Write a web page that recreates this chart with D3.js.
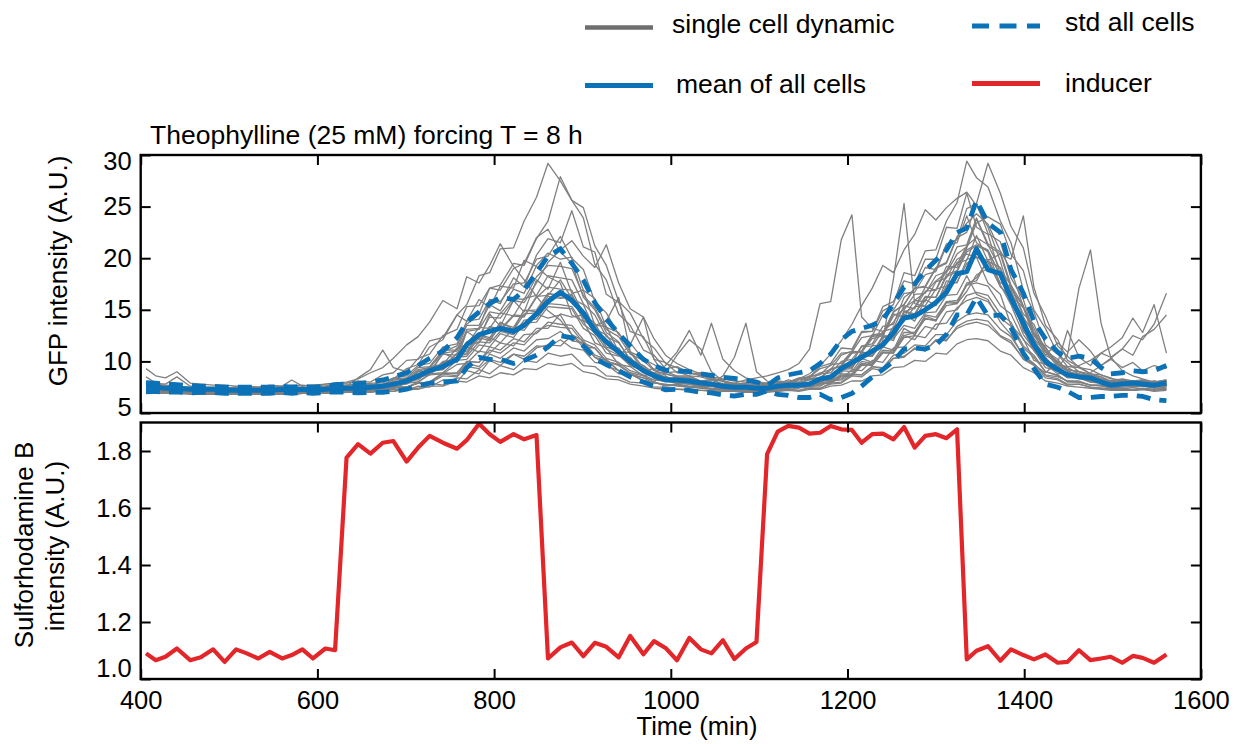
<!DOCTYPE html>
<html>
<head>
<meta charset="utf-8">
<script src="https://cdn.jsdelivr.net/npm/d3@7"></script>
<style>
  body { margin: 0; background: #fff; }
  text { font-family: "Liberation Sans", Arial, Helvetica, sans-serif; fill: #000; }
</style>
</head>
<body>
<svg id="chart" width="1236" height="744"></svg>
<script>
// Sampling times (min)
const times = [
  406, 417, 428, 441, 456, 468, 482, 495, 508, 520, 533, 546, 560, 571, 583, 595, 609, 620,
  633, 646, 660, 674, 686, 701, 714, 727, 742, 758, 769, 783, 795, 807, 822, 834, 848,
  861, 875, 888, 901, 914, 927, 941, 954, 969, 981, 994, 1007, 1021, 1034, 1046, 1059, 1072, 1085, 1097,
  1109, 1121, 1133, 1145, 1157, 1169, 1181, 1193, 1205, 1216, 1228, 1240, 1252, 1264, 1276, 1288, 1300, 1312, 1324,
  1335, 1346, 1359, 1373, 1385, 1399, 1411, 1424, 1438, 1449, 1462, 1475, 1487, 1498, 1511, 1523, 1534, 1547, 1561
];

// Sulforhodamine B (inducer tracer) intensity
const inducer = [
  1.090, 1.066, 1.078, 1.107, 1.066, 1.076, 1.104, 1.060, 1.104, 1.090, 1.072, 1.095, 1.072, 1.084, 1.104, 1.072, 1.107, 1.101,
  1.777, 1.824, 1.791, 1.829, 1.835, 1.763, 1.812, 1.853, 1.829, 1.808, 1.838, 1.896, 1.859, 1.832, 1.859, 1.841, 1.856,
  1.072, 1.111, 1.128, 1.080, 1.127, 1.113, 1.076, 1.151, 1.087, 1.133, 1.109, 1.066, 1.144, 1.104, 1.090, 1.136, 1.070, 1.107, 1.130,
  1.789, 1.868, 1.888, 1.882, 1.861, 1.864, 1.888, 1.876, 1.874, 1.829, 1.859, 1.861, 1.841, 1.884, 1.812, 1.853, 1.859, 1.845, 1.876,
  1.069, 1.099, 1.115, 1.064, 1.104, 1.084, 1.069, 1.086, 1.057, 1.060, 1.101, 1.066, 1.072, 1.078, 1.057, 1.081, 1.074, 1.057, 1.086
];

// Population mean GFP
const meanGFP = [
  7.5, 7.5, 7.4, 7.4, 7.3, 7.3, 7.3, 7.2, 7.2, 7.2, 7.2, 7.2, 7.3, 7.2, 7.3, 7.2, 7.3, 7.4,
  7.4, 7.4, 7.5, 7.6, 7.8, 8.1, 8.6, 9.1, 9.5, 10.2, 11.6, 12.6, 12.9, 13.2, 12.9, 13.5, 14.6,
  15.8, 16.7, 15.9, 14.7, 13.0, 11.9, 10.9, 10.0, 9.1, 8.6, 8.2, 8.2, 8.1, 7.9, 7.8, 7.6, 7.5, 7.5, 7.4,
  7.4, 7.6, 7.7, 7.7, 7.8, 8.3, 8.5, 9.3, 9.9, 10.4, 11.0, 11.6, 12.8, 14.2, 14.4, 15.0, 15.7, 16.7, 18.5,
  18.7, 20.9, 18.9, 18.5, 16.1, 13.7, 11.6, 10.0, 9.2, 8.7, 8.5, 8.4, 8.0, 7.7, 7.8, 7.9, 7.8, 7.7, 7.9
];

// Population standard deviation of GFP
const stdGFP = [
  0.45, 0.4, 0.4, 0.35, 0.35, 0.3, 0.3, 0.3, 0.3, 0.3, 0.3, 0.3, 0.3, 0.3, 0.3, 0.3, 0.3, 0.35,
  0.4, 0.45, 0.5, 0.6, 0.7, 0.8, 1.0, 1.2, 1.5, 2.1, 2.2, 2.2, 2.7, 3.0, 3.1, 3.4, 4.0,
  4.4, 4.2, 3.6, 3.2, 2.7, 2.2, 1.8, 1.5, 1.1, 1.0, 0.95, 0.9, 0.9, 0.9, 0.85, 0.85, 0.85, 0.7, 0.6,
  0.25, 0.8, 1.0, 1.2, 1.3, 1.5, 2.2, 2.8, 3.0, 2.8, 2.5, 2.4, 2.8, 3.0, 3.1, 3.8, 4.1, 4.1, 4.0,
  4.2, 4.7, 4.5, 4.0, 2.8, 2.9, 2.3, 2.2, 1.7, 1.6, 2.0, 1.9, 1.4, 1.1, 1.1, 1.2, 1.2, 1.4, 1.7
];

// Single-cell GFP traces
const cellTraces = [
  [7.6,7.4,7.5,7.3,7.3,7.2,7.2,7.1,7.2,7.2,7.1,7.2,7.2,7.1,7.3,7.2,7.3,7.4,
   7.5,7.7,7.6,8.1,8.3,9.3,9.7,11.4,12.1,14.5,15.5,18.3,18.6,20.9,21.0,23.6,25.9,
   29.2,27.5,25.6,23.9,19.4,17.9,14.6,13.5,11.1,10.6,9.3,9.5,8.9,8.7,8.3,8.1,7.6,7.8,7.5,
   7.4,7.9,7.8,8.2,8.4,8.9,9.2,10.6,11.0,12.8,12.9,14.9,15.5,18.6,18.3,20.7,20.8,23.6,25.4,
   29.4,27.8,26.9,23.6,21.5,16.9,14.8,11.6,10.7,9.5,9.4,8.8,8.5,8.0,8.2,8.0,8.2,7.9,8.1],
  [7.3,7.3,7.2,7.2,7.1,7.1,7.0,7.1,7.0,7.1,7.0,7.1,7.1,7.2,7.1,7.2,7.2,7.2,
   7.3,7.4,7.6,7.5,7.9,8.1,9.0,9.4,10.9,11.5,13.6,14.6,17.1,17.4,19.5,19.3,21.9,
   23.6,27.9,25.6,24.9,21.2,19.3,15.8,14.7,12.2,11.3,9.8,9.4,8.8,8.9,8.3,8.2,7.7,7.7,7.5,
   7.3,7.5,7.6,7.9,7.9,8.3,8.4,9.5,9.8,11.5,11.7,13.4,13.6,16.2,17.0,19.1,18.9,21.4,21.8,
   24.8,25.3,29.2,26.3,23.1,21.0,16.6,14.4,11.5,10.5,9.4,9.2,8.7,8.4,7.9,8.1,7.9,8.1,7.8],
  [8.0,7.8,7.7,7.6,7.5,7.5,7.4,7.4,7.5,7.5,7.4,7.5,7.6,7.5,7.7,7.6,7.8,7.9,
   7.9,8.1,8.0,8.7,8.9,10.1,10.2,12.0,12.3,14.5,13.9,16.0,15.2,17.3,17.1,19.8,19.2,
   18.2,17.6,14.5,13.9,11.8,11.3,9.7,9.5,8.6,8.9,8.3,8.4,8.0,8.0,7.7,7.9,7.6,7.7,7.8,
   7.9,7.8,8.2,8.0,8.6,8.7,9.7,9.8,11.0,10.9,12.4,12.6,14.6,14.3,15.9,15.8,17.7,18.1,19.9,
   20.4,20.1,17.6,16.5,13.5,12.2,10.1,9.7,8.8,8.9,8.3,8.3,7.9,8.1,7.9,8.0,7.8,8.1,7.9],
  [7.0,6.9,6.9,6.9,6.8,6.8,6.8,6.8,6.8,6.9,6.8,6.8,6.9,6.8,6.9,6.9,6.9,7.0,
   7.0,7.1,7.0,7.2,7.1,7.4,7.4,7.9,7.7,8.4,8.3,9.2,8.8,9.6,9.2,10.1,9.9,
   10.8,10.5,10.7,9.6,9.5,8.6,8.5,8.0,7.9,7.5,7.5,7.3,7.3,7.2,7.2,7.1,7.1,7.0,7.0,
   7.1,7.1,7.3,7.2,7.4,7.4,7.8,7.9,8.6,8.5,9.3,9.1,10.3,10.4,11.3,11.0,12.1,12.0,13.4,
   13.9,14.1,13.9,12.5,12.0,10.2,9.6,8.4,8.2,7.7,7.8,7.5,7.4,7.3,7.3,7.2,7.3,7.2,7.3],
  [7.5,7.4,7.4,7.3,7.3,7.2,7.3,7.2,7.2,7.3,7.2,7.3,7.2,7.3,7.3,7.4,7.4,7.5,
   7.4,7.4,7.6,7.5,7.8,7.9,8.6,8.8,10.0,10.2,11.9,12.4,14.3,14.2,15.9,15.7,17.6,
   19.6,20.8,21.7,20.2,19.1,21.3,17.6,15.1,14.3,12.2,10.6,9.8,9.2,8.8,8.5,8.3,8.1,8.0,7.9,
   7.8,7.7,7.9,7.9,8.2,8.4,9.2,9.6,10.9,11.0,12.6,12.7,14.8,15.5,17.1,17.2,19.0,19.5,22.0,
   22.5,25.3,22.4,21.6,18.1,16.0,12.7,11.3,9.7,9.4,8.8,8.7,8.1,8.1,7.9,8.0,8.1,7.8,8.0],
  [7.2,7.2,7.1,7.1,7.0,7.0,7.0,7.0,7.0,7.0,7.0,7.1,7.0,7.1,7.1,7.1,7.2,7.2,
   7.2,7.3,7.4,7.3,7.8,7.9,8.6,8.8,9.9,10.1,11.8,11.9,13.4,13.1,14.5,14.4,16.3,
   16.4,17.9,16.1,15.5,13.1,12.6,10.8,10.4,9.0,8.8,9.6,10.9,13.0,10.6,13.7,10.2,9.1,8.4,8.0,
   7.9,7.6,7.6,7.8,7.7,8.3,8.3,9.5,9.6,10.9,10.8,12.4,12.6,14.9,14.6,16.3,16.2,18.4,18.8,
   20.8,21.3,20.8,18.3,17.0,13.7,12.2,10.1,9.5,8.6,8.5,8.1,8.0,7.6,7.8,7.6,7.7,7.5,7.7],
  [7.4,7.3,7.3,7.2,7.2,7.2,7.1,7.1,7.2,7.1,7.2,7.2,7.1,7.2,7.2,7.3,7.3,7.3,
   7.3,7.5,7.4,7.7,7.7,8.4,8.5,9.5,9.7,11.3,11.6,13.3,13.2,14.7,14.4,16.1,16.4,
   18.3,18.1,17.9,15.6,14.5,12.4,11.8,10.2,9.6,8.8,8.5,8.2,8.3,7.9,7.9,7.7,7.9,8.2,8.4,
   8.6,8.9,9.2,9.8,11.2,15.6,15.8,21.8,24.2,14.3,13.2,12.9,13.8,15.2,15.9,16.7,17.8,18.6,20.4,
   21.1,23.8,21.2,20.4,17.1,15.3,12.2,10.9,9.5,9.1,8.5,8.5,8.0,7.9,7.7,7.8,7.9,7.7,7.8],
  [7.3,7.2,7.2,7.1,7.1,7.1,7.0,7.1,7.0,7.0,7.1,7.1,7.1,7.0,7.1,7.2,7.2,7.2,
   7.2,7.3,7.2,7.5,7.5,8.1,8.2,9.1,9.2,10.5,10.7,12.3,12.0,13.5,13.0,14.6,14.7,
   16.3,16.1,16.2,14.0,13.2,11.4,10.9,9.6,9.2,8.4,8.2,7.9,8.0,7.6,7.7,7.4,7.4,7.2,7.3,
   7.2,7.5,7.4,7.7,7.6,8.2,8.3,9.3,9.4,10.6,10.5,12.0,18.0,25.3,15.6,15.3,15.5,17.3,17.7,
   19.5,20.1,19.6,17.3,16.0,13.2,11.8,9.8,9.2,8.5,8.4,8.0,7.9,7.6,7.7,7.5,7.6,7.5,7.6],
  [7.6,7.5,7.5,7.4,7.4,7.3,7.3,7.3,7.3,7.2,7.3,7.3,7.3,7.3,7.4,7.4,7.5,7.5,
   7.6,7.6,7.5,7.8,7.8,8.4,8.5,9.4,9.5,10.8,11.0,12.6,12.3,13.7,13.3,14.9,15.0,
   16.6,16.4,16.5,14.3,13.5,11.7,11.2,9.9,9.4,8.7,8.5,8.2,8.3,7.9,8.0,7.7,7.7,7.5,7.6,
   7.6,7.6,7.5,7.8,7.7,8.0,7.9,8.5,8.6,9.6,9.7,10.9,10.8,12.3,12.5,14.5,14.3,15.8,15.9,
   17.4,18.1,19.8,20.4,19.9,24.1,17.2,13.5,12.1,10.1,9.5,8.8,8.7,8.3,8.2,7.9,8.0,7.8,7.9],
  [7.1,7.1,7.0,7.0,7.0,6.9,6.9,6.9,6.9,6.9,7.0,6.9,7.0,6.9,7.0,7.0,7.0,7.1,
   7.1,7.2,7.3,7.2,7.7,7.8,8.5,8.7,9.8,10.0,11.7,11.8,13.3,13.0,14.4,14.3,16.2,
   17.2,17.0,16.9,14.6,13.7,11.8,11.3,9.8,9.3,8.4,8.2,7.9,8.0,7.6,7.7,7.3,7.3,7.1,7.2,
   7.1,7.4,7.3,7.7,7.6,8.2,8.3,9.4,9.6,10.8,10.9,12.3,12.6,14.8,14.5,16.2,16.2,18.2,18.7,
   20.6,21.2,20.7,18.3,16.8,13.7,12.1,10.0,9.4,10.6,17.1,20.8,13.7,10.4,9.1,8.6,8.3,8.0,8.2],
  [7.9,7.7,7.6,7.5,7.4,7.4,7.3,7.3,7.3,7.3,7.3,7.4,7.3,7.4,7.4,7.5,7.5,7.6,
   7.6,7.6,7.8,7.7,8.2,8.3,9.2,9.4,10.8,11.0,12.9,13.1,14.8,14.6,16.1,16.0,18.2,
   19.3,19.2,19.0,16.4,15.2,13.1,12.4,10.7,10.1,9.1,8.8,8.5,8.5,8.1,8.2,7.8,7.8,7.6,7.6,
   7.6,7.7,8.0,7.9,8.3,8.4,9.3,9.5,10.8,10.9,12.2,12.5,14.4,15.0,16.5,16.6,18.3,18.7,21.1,
   21.3,23.9,21.4,20.6,17.4,15.4,12.5,11.1,9.7,9.5,9.6,10.1,10.8,10.4,11.2,12.5,12.1,13.6,16.6],
  [7.2,7.1,7.1,7.1,7.0,7.0,7.0,7.0,6.9,7.0,7.0,7.0,7.0,7.0,7.1,7.0,7.1,7.1,
   7.1,7.2,7.1,7.4,7.4,7.9,8.0,8.8,8.9,10.1,10.2,11.6,11.4,12.7,12.3,13.7,13.8,
   15.3,15.2,15.1,13.2,12.5,10.8,10.5,11.6,14.3,10.2,8.6,7.9,7.8,7.5,7.6,7.3,7.3,7.1,7.2,
   7.2,7.3,7.5,7.5,7.8,7.9,8.6,8.9,10.1,10.2,11.5,11.6,13.4,13.9,15.3,15.4,17.0,17.3,19.6,
   19.8,22.2,19.7,19.1,16.2,14.3,11.6,10.4,9.1,8.8,8.4,8.9,9.6,10.3,11.2,10.6,12.4,13.1,14.5],
  [7.5,7.4,7.4,7.3,7.3,7.2,7.3,7.2,7.3,7.3,7.3,7.3,7.3,7.4,7.4,7.5,7.6,7.8,
   7.6,8.4,9.2,11.1,9.4,9.0,10.3,10.7,12.5,13.1,15.3,15.4,17.1,16.9,19.0,19.5,22.0,
   22.8,20.6,19.5,16.2,15.0,12.8,11.9,10.1,9.6,8.8,8.8,8.5,8.4,8.0,7.9,7.6,7.7,7.4,7.5,
   7.5,7.6,7.9,7.9,8.3,8.4,9.2,9.6,10.8,11.0,12.5,12.7,14.8,15.5,17.1,17.3,19.1,19.6,22.1,
   23.4,24.3,23.3,20.7,18.9,15.3,13.2,10.9,10.0,9.2,9.0,8.5,8.3,7.9,8.1,7.9,8.0,7.8,8.1],
  [9.3,8.6,8.4,9.0,7.9,7.8,7.7,7.7,7.6,7.6,7.5,7.6,7.5,7.7,7.6,7.7,7.8,7.9,
   8.0,8.3,8.9,9.4,10.3,11.6,12.4,13.8,15.9,15.1,18.2,17.6,19.3,21.4,19.2,17.9,16.3,
   14.9,14.0,12.6,11.6,10.4,9.6,9.1,8.7,8.4,8.2,8.1,8.0,7.9,7.9,7.8,7.8,7.7,7.7,7.6,
   7.7,8.0,7.9,8.3,8.2,8.8,8.9,10.0,10.2,11.4,11.5,12.9,13.2,15.4,15.1,16.8,16.9,18.8,19.4,
   21.2,22.0,21.3,18.9,17.4,14.3,12.7,10.6,9.9,9.2,9.0,8.6,8.5,8.1,8.3,8.1,8.2,8.0,8.2],
  [8.5,7.9,7.8,8.5,7.6,7.5,7.5,7.4,7.5,7.6,7.5,7.7,7.6,8.2,7.6,7.7,7.6,7.8,
   7.8,7.7,7.9,7.9,8.4,8.6,9.6,9.8,11.4,11.7,13.9,14.1,16.0,15.8,17.5,17.6,19.9,
   20.2,22.1,20.0,18.9,15.8,14.7,12.6,11.8,10.2,9.7,8.9,9.0,8.6,8.5,8.2,8.1,7.8,7.9,7.7,
   7.8,8.1,8.0,8.3,8.5,9.3,9.6,10.8,10.9,12.3,12.5,14.5,15.0,16.6,16.7,18.4,18.7,21.2,21.5,
   24.1,21.5,20.6,17.4,15.5,12.6,11.2,9.8,9.4,8.8,8.8,8.2,8.2,8.0,8.2,8.0,8.1,8.0,8.1],
  [7.1,7.0,7.0,7.0,6.9,6.9,6.9,6.9,6.9,6.9,6.9,6.9,6.9,6.9,7.0,6.9,7.0,7.0,
   7.1,7.2,7.3,7.2,7.5,7.5,8.0,7.9,8.8,8.6,9.8,9.5,10.7,10.3,11.3,11.0,12.1,
   12.2,12.9,12.0,11.8,10.4,10.1,9.1,8.8,8.1,8.0,7.6,7.7,7.5,7.5,7.4,7.3,7.3,7.2,7.2,
   7.2,7.3,7.5,7.4,7.6,7.6,8.2,8.3,9.2,9.1,10.1,9.9,11.3,11.4,12.5,12.3,13.6,13.7,15.2,
   15.9,16.2,15.8,14.2,13.4,11.3,10.4,9.0,8.6,8.1,8.0,7.7,7.7,7.4,7.5,7.5,7.6,7.4,7.5],
  [7.3,7.3,7.2,7.2,7.2,7.1,7.1,7.1,7.1,7.1,7.1,7.2,7.1,7.2,7.2,7.2,7.3,7.3,
   7.3,7.3,7.4,7.3,7.5,7.5,7.9,8.0,8.9,8.8,10.0,9.9,11.4,11.1,12.2,11.9,13.2,
   13.2,14.6,14.3,14.5,12.7,12.1,10.7,10.3,9.2,8.9,8.2,8.1,7.8,7.9,7.6,7.7,7.4,7.5,7.3,
   7.3,7.4,7.5,7.7,7.6,7.8,7.9,8.6,8.7,9.8,9.7,10.9,10.9,12.5,12.8,14.1,14.0,15.4,15.6,
   16.8,18.4,19.0,18.3,16.4,15.2,12.8,11.4,9.7,9.1,8.5,8.4,8.0,7.9,7.6,7.8,7.6,7.7,7.6],
  [6.9,6.9,6.9,6.9,6.9,6.8,6.8,6.8,6.8,6.8,6.8,6.8,6.9,6.8,6.9,6.9,6.9,6.9,
   7.0,7.1,7.2,7.1,7.4,7.5,7.9,8.0,8.8,8.9,10.0,9.9,11.1,10.8,11.8,11.6,12.9,
   13.5,13.3,13.2,11.8,11.3,10.0,9.6,8.8,8.4,7.9,7.8,7.6,7.5,7.4,7.3,7.2,7.2,7.1,7.1,
   7.1,7.2,7.3,7.2,7.4,7.4,7.9,8.0,8.7,8.7,9.5,9.4,10.6,10.8,11.6,11.5,12.6,12.6,13.9,
   14.5,14.7,14.5,13.1,12.4,10.6,9.8,8.6,8.3,7.8,7.8,7.5,7.4,7.3,7.3,7.2,7.3,7.2,7.3],
  [7.2,7.2,7.1,7.1,7.1,7.1,7.0,7.0,7.1,7.0,7.1,7.1,7.1,7.1,7.1,7.2,7.2,7.2,
   7.2,7.3,7.4,7.3,7.6,7.5,7.9,7.9,8.6,8.5,9.5,9.3,10.2,9.9,10.7,10.5,11.5,
   11.4,12.1,11.3,11.1,9.9,9.7,8.8,8.8,8.1,8.0,7.7,7.8,7.6,7.6,7.8,8.6,10.4,13.7,9.0,
   8.1,7.6,7.5,7.8,7.8,8.4,8.5,9.5,9.5,10.6,10.5,11.9,12.2,13.5,13.2,14.7,14.8,16.4,16.5,
   18.3,16.5,16.0,13.8,12.6,10.5,9.7,8.7,8.5,8.1,8.1,7.7,7.7,7.5,7.7,7.5,7.6,7.5,7.6],
  [7.4,7.4,7.3,7.3,7.3,7.2,7.2,7.2,7.2,7.2,7.2,7.2,7.2,7.2,7.3,7.3,7.3,7.4,
   7.4,7.5,7.4,7.7,7.7,8.2,8.3,9.1,9.2,10.4,10.5,11.9,11.8,12.9,12.6,14.0,14.1,
   15.6,15.5,15.3,13.6,12.8,11.2,10.6,9.6,9.1,8.5,8.3,8.0,8.1,7.8,7.8,7.6,7.5,7.5,7.4,
   7.4,7.5,7.6,7.5,7.7,7.7,8.1,8.2,8.8,8.7,9.5,9.3,10.3,10.5,11.2,11.1,12.0,12.1,13.2,
   13.6,13.8,13.5,12.4,11.8,10.3,9.7,8.9,9.9,13.0,10.4,9.6,10.8,11.4,12.3,14.2,12.8,15.5,10.8],
  [7.0,7.0,6.9,6.9,6.9,6.9,6.8,6.9,6.8,6.8,6.9,6.8,6.9,6.8,6.9,6.9,7.0,7.0,
   7.0,7.1,7.0,7.2,7.1,7.3,7.3,7.6,7.6,8.1,8.0,8.6,8.4,8.9,8.7,9.3,9.2,
   9.8,9.6,9.8,9.0,8.8,8.3,8.2,7.8,7.6,7.4,7.3,7.3,7.2,7.2,7.1,7.1,7.1,7.0,7.0,
   7.0,7.1,7.2,7.1,7.3,7.3,7.6,7.7,8.1,8.1,8.6,8.7,9.4,9.5,10.1,10.0,10.8,10.7,11.7,
   12.1,12.2,12.0,11.0,10.6,9.4,8.9,8.1,7.9,7.6,7.5,7.4,7.3,7.2,7.2,7.2,7.3,7.1,7.2],
  [7.4,7.3,7.3,7.3,7.2,7.2,7.2,7.1,7.2,7.2,7.2,7.2,7.2,7.2,7.2,7.3,7.3,7.4,
   7.4,7.5,7.4,7.6,7.6,8.0,8.0,8.7,8.8,9.7,9.8,11.0,10.8,11.8,11.5,12.6,12.7,
   13.8,13.6,13.5,12.1,11.6,10.3,9.9,9.1,8.7,8.2,8.1,7.9,7.8,7.7,7.6,7.5,7.5,7.4,7.4,
   7.5,7.7,7.9,8.3,8.8,9.6,10.7,12.0,13.6,15.4,17.1,19.3,18.6,20.8,22.3,24.7,23.7,24.9,25.8,
   26.4,25.1,23.0,19.7,16.3,13.1,11.0,9.8,9.1,8.7,8.5,8.4,8.2,8.1,8.1,8.0,8.0,8.0,8.1],
  [7.3,7.2,7.2,7.1,7.1,7.1,7.1,7.0,7.1,7.1,7.0,7.1,7.1,7.1,7.2,7.1,7.2,7.3,
   7.4,7.3,7.6,7.5,8.1,8.0,9.1,8.8,10.8,10.2,12.9,12.1,14.6,13.4,15.9,14.8,17.9,
   17.0,19.6,16.6,16.9,13.5,13.4,10.9,10.9,9.1,9.3,8.2,8.5,8.0,8.0,7.7,7.7,7.4,7.5,7.3,
   7.3,7.6,7.5,7.8,7.7,8.3,8.4,9.5,9.4,10.9,10.5,12.4,12.0,14.6,13.9,16.0,15.4,17.8,17.6,
   19.9,20.1,19.8,17.2,16.3,13.2,11.9,9.9,9.4,8.6,8.5,8.1,8.0,7.7,7.8,7.6,7.7,7.6,7.7],
  [7.1,7.1,7.1,7.0,7.0,7.0,7.0,6.9,7.0,7.0,7.0,7.0,7.0,7.0,7.0,7.1,7.1,7.1,
   7.2,7.3,7.4,7.4,7.8,8.0,8.7,8.7,9.9,9.9,11.4,10.9,12.3,11.8,13.2,13.0,14.6,
   14.2,14.5,12.6,12.0,10.6,10.2,9.1,8.8,8.1,8.0,7.7,7.8,7.5,7.6,7.3,7.3,7.2,7.2,7.2,
   7.2,7.3,7.4,7.7,7.7,8.1,8.1,9.2,9.3,10.9,10.7,12.5,12.3,14.8,15.2,17.2,16.9,19.2,19.1,
   21.0,23.4,24.0,23.3,20.4,18.8,15.0,13.2,10.7,9.9,9.0,8.8,8.3,8.1,7.7,7.9,7.7,7.8,7.6],
  [7.4,7.3,7.3,7.3,7.2,7.2,7.2,7.2,7.2,7.2,7.2,7.2,7.3,7.2,7.3,7.3,7.3,7.4,
   7.4,7.5,7.5,7.7,7.7,8.3,8.3,9.3,9.3,10.8,10.8,12.6,12.1,13.8,13.1,15.0,14.8,
   16.6,16.2,16.4,14.2,13.5,13.9,16.2,11.0,9.4,8.6,8.4,8.1,8.2,7.8,7.9,7.6,7.6,7.4,7.4,
   7.4,7.6,7.5,7.8,7.7,8.2,8.1,9.1,9.0,10.3,9.9,11.4,11.1,13.2,12.6,14.2,13.9,15.8,15.7,
   17.4,17.6,17.3,15.4,14.6,12.1,11.1,9.4,9.1,8.4,8.4,8.0,7.9,7.7,7.8,7.6,7.7,7.6,7.7],
  [7.5,7.5,7.4,7.4,7.4,7.3,7.3,7.3,7.4,7.3,7.3,7.4,7.4,7.3,7.4,7.4,7.5,7.5,
   7.6,7.5,7.8,7.7,8.3,8.4,9.4,9.5,11.1,11.1,13.5,13.5,15.5,14.9,17.0,16.6,19.3,
   20.5,19.9,20.1,16.9,16.1,13.3,12.8,10.9,10.4,9.2,9.0,8.6,8.6,8.1,8.2,7.8,7.8,7.6,7.6,
   7.7,8.0,8.0,8.4,8.5,9.5,9.8,11.3,11.2,12.9,12.9,15.3,15.8,17.8,17.5,19.9,19.9,23.0,22.9,
   26.3,23.0,22.3,18.4,16.6,12.9,11.9,10.6,11.8,10.9,12.1,11.0,9.6,10.2,9.4,9.9,9.1,9.6,9.3],
  [7.0,6.9,6.9,6.9,6.9,6.9,6.8,6.8,6.8,6.8,6.9,6.8,6.8,6.9,6.9,6.9,6.9,7.0,
   7.0,7.1,7.2,7.1,7.3,7.2,7.6,7.5,8.2,8.0,9.1,8.8,10.1,9.6,10.7,10.2,11.3,
   11.6,11.5,12.5,11.4,11.3,10.0,9.7,8.9,8.6,8.0,8.9,10.6,12.1,11.2,9.0,8.1,7.5,7.2,7.1,
   7.1,7.3,7.2,7.5,7.4,7.9,7.9,8.7,8.7,9.7,9.6,10.8,10.8,12.5,12.1,13.4,13.1,14.8,15.0,
   16.4,16.7,16.4,14.6,13.8,11.5,10.6,9.0,8.7,8.0,8.0,7.7,7.6,7.4,7.4,7.3,7.4,7.3,7.4],
  [7.3,7.3,7.3,7.2,7.2,7.2,7.2,7.2,7.1,7.2,7.2,7.2,7.2,7.2,7.2,7.3,7.3,7.3,
   7.3,7.4,7.7,7.5,7.9,8.0,9.0,9.0,10.7,10.6,13.1,13.2,16.0,15.6,18.1,17.2,20.3,
   21.9,21.5,24.6,21.1,20.6,16.5,15.7,12.9,12.4,10.2,9.9,8.9,8.9,8.6,8.4,8.1,7.9,7.6,7.6,
   7.4,7.5,7.5,7.8,7.7,7.9,8.0,8.8,8.8,10.0,9.8,11.1,11.0,12.8,12.8,14.4,14.0,15.7,15.6,
   17.6,17.8,19.9,17.6,17.3,14.6,13.6,11.0,10.2,9.0,8.8,8.3,8.3,7.9,7.9,7.7,7.8,7.8,7.7]
];

// Axis tick values
const timeTicks = [400, 600, 800, 1000, 1200, 1400, 1600];
const gfpTicks = [5, 10, 15, 20, 25, 30];
const srbTicks = [1.0, 1.2, 1.4, 1.6, 1.8];

const legendItems = [
  { label: "single cell dynamic", kind: "cell" },
  { label: "mean of all cells", kind: "mean" },
  { label: "std all cells", kind: "std" },
  { label: "inducer", kind: "inducer" }
];

// ---------- drawing ----------
const C = {
  cell: "#808080",
  cellLegend: "#6e6e6e",
  blue: "#0b72b8",
  red: "#e3262a",
  frame: "#000"
};

const svg = d3.select("#chart");
const left = 140.7, right = 1200.9;
const topPanel = { y0: 155, y1: 413 };
const botPanel = { y0: 422.5, y1: 679 };

const x = d3.scaleLinear().domain([400, 1600]).range([left, right]);
const yTop = d3.scaleLinear().domain([5, 30]).range([topPanel.y1, topPanel.y0]);
const yBot = d3.scaleLinear().domain([1.0, 1.9]).range([botPanel.y1, botPanel.y0]);

const defs = svg.append("defs");
defs.append("clipPath").attr("id", "clipTop").append("rect")
  .attr("x", left).attr("y", topPanel.y0).attr("width", right - left).attr("height", topPanel.y1 - topPanel.y0);
defs.append("clipPath").attr("id", "clipBot").append("rect")
  .attr("x", left).attr("y", botPanel.y0).attr("width", right - left).attr("height", botPanel.y1 - botPanel.y0);

// Top panel: GFP
const gTop = svg.append("g").attr("clip-path", "url(#clipTop)");
const lineTop = vals => d3.line().x((d, i) => x(times[i])).y(d => yTop(d))(vals);

gTop.selectAll("path.cell").data(cellTraces).join("path")
  .attr("class", "cell")
  .attr("d", d => lineTop(d))
  .attr("fill", "none").attr("stroke", C.cell).attr("stroke-width", 1.3)
  .attr("stroke-linejoin", "round");

const upper = meanGFP.map((m, i) => m + stdGFP[i]);
const lower = meanGFP.map((m, i) => m - stdGFP[i]);
[upper, lower].forEach(arr => {
  gTop.append("path").attr("d", lineTop(arr))
    .attr("fill", "none").attr("stroke", C.blue).attr("stroke-width", 4.8)
    .attr("stroke-dasharray", "14,9");
});
gTop.append("path").attr("d", lineTop(meanGFP))
  .attr("fill", "none").attr("stroke", C.blue).attr("stroke-width", 5)
  .attr("stroke-linejoin", "round");

// Bottom panel: inducer
const gBot = svg.append("g").attr("clip-path", "url(#clipBot)");
gBot.append("path")
  .attr("d", d3.line().x((d, i) => x(times[i])).y(d => yBot(d))(inducer))
  .attr("fill", "none").attr("stroke", C.red).attr("stroke-width", 4.2)
  .attr("stroke-linejoin", "round");

// Axes with inward ticks on all four sides
function styleAxis(g) {
  g.select(".domain").remove();
  g.selectAll(".tick line").attr("stroke", C.frame).attr("stroke-width", 2);
  g.selectAll(".tick text").attr("font-size", 25.5).attr("font-family", '"Liberation Sans", Arial, sans-serif').attr("fill", "#000");
}

function panelAxes(yScale, y0, y1, yTicks, fmt, showX) {
  svg.append("g").attr("transform", `translate(${left},0)`)
    .call(d3.axisLeft(yScale).tickValues(yTicks).tickSize(-10).tickPadding(9).tickFormat(fmt))
    .call(styleAxis);
  svg.append("g").attr("transform", `translate(${right},0)`)
    .call(d3.axisRight(yScale).tickValues(yTicks).tickSize(-10).tickFormat(""))
    .call(styleAxis);
  svg.append("g").attr("transform", `translate(0,${y0})`)
    .call(d3.axisTop(x).tickValues(timeTicks).tickSize(-10).tickFormat(""))
    .call(styleAxis);
  const gb = svg.append("g").attr("transform", `translate(0,${y1})`)
    .call(d3.axisBottom(x).tickValues(timeTicks).tickSize(-10).tickPadding(10)
      .tickFormat(showX ? d3.format("d") : ""))
    .call(styleAxis);
  if (showX) gb.selectAll(".tick text").attr("dy", "0.78em");
  svg.append("rect").attr("x", left).attr("y", y0)
    .attr("width", right - left).attr("height", y1 - y0)
    .attr("fill", "none").attr("stroke", C.frame).attr("stroke-width", 2.4);
}

panelAxes(yTop, topPanel.y0, topPanel.y1, gfpTicks, d3.format("d"), false);
panelAxes(yBot, botPanel.y0, botPanel.y1, srbTicks, d3.format(".1f"), true);

// keep the end labels inside the panel height
svg.selectAll("g.tick").filter(d => d === 30).select("text").attr("dy", "0.55em");
svg.selectAll("g.tick").filter(d => d === 5).select("text").attr("dy", "0.08em");
svg.selectAll("g.tick").filter(d => d === 1.0).select("text").attr("dy", "-0.08em");

// Titles and axis labels
svg.append("text").attr("x", 150).attr("y", 144)
  .attr("font-size", 26.5).text("Theophylline (25 mM) forcing T = 8 h");

svg.append("text").attr("transform", "translate(67,271) rotate(-90)")
  .attr("text-anchor", "middle").attr("font-size", 26).text("GFP intensity (A.U.)");

svg.append("text").attr("transform", "translate(33,545) rotate(-90)")
  .attr("text-anchor", "middle").attr("font-size", 26).text("Sulforhodamine B");
svg.append("text").attr("transform", "translate(64,546) rotate(-90)")
  .attr("text-anchor", "middle").attr("font-size", 26).text("intensity (A.U.)");

svg.append("text").attr("x", 697).attr("y", 735)
  .attr("text-anchor", "middle").attr("font-size", 25.5).text("Time (min)");

// Legend
const legendPos = {
  cell:    { x1: 585, x2: 653, y: 27.5, tx: 672, ty: 33 },
  mean:    { x1: 585, x2: 653, y: 85.5, tx: 676, ty: 92.5 },
  std:     { x1: 972, x2: 1040, y: 26,   tx: 1065, ty: 31 },
  inducer: { x1: 972, x2: 1040, y: 83.5, tx: 1065, ty: 91.5 }
};
const legendStyle = {
  cell:    { stroke: C.cellLegend, width: 4.5, dash: null },
  mean:    { stroke: C.blue, width: 5, dash: null },
  std:     { stroke: C.blue, width: 5, dash: "17,10.5" },
  inducer: { stroke: C.red, width: 5, dash: null }
};
const lg = svg.append("g");
legendItems.forEach(item => {
  const p = legendPos[item.kind], s = legendStyle[item.kind];
  lg.append("line").attr("x1", p.x1).attr("x2", p.x2).attr("y1", p.y).attr("y2", p.y)
    .attr("stroke", s.stroke).attr("stroke-width", s.width)
    .attr("stroke-dasharray", s.dash);
  lg.append("text").attr("x", p.tx).attr("y", p.ty).attr("font-size", 26.5).text(item.label);
});
</script>
</body>
</html>
